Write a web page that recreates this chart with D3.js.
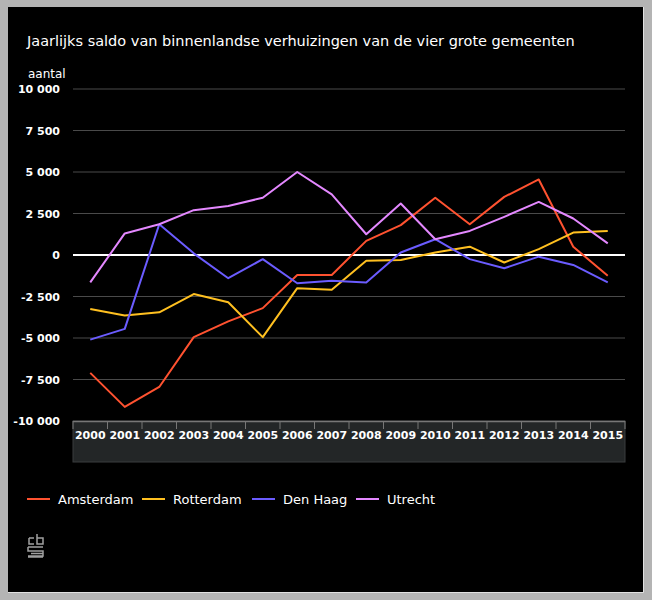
<!DOCTYPE html>
<html><head><meta charset="utf-8">
<script src="https://cdn.jsdelivr.net/npm/d3@7"></script>
<style>html,body{margin:0;padding:0;background:#b4b4b4;}svg{display:block;}</style>
</head><body>
<svg id="c" width="652" height="600"></svg>
<script>
const years = ["2000","2001","2002","2003","2004","2005","2006","2007","2008","2009","2010","2011","2012","2013","2014","2015"];
const amsterdam = [-7100,-9150,-7950,-4950,-4000,-3200,-1200,-1200,850,1800,3450,1850,3500,4550,500,-1250];
const rotterdam = [-3250,-3650,-3450,-2350,-2850,-4950,-2000,-2100,-350,-300,150,500,-450,350,1350,1450];
const denHaag = [-5100,-4450,1850,100,-1400,-250,-1700,-1550,-1650,150,950,-250,-800,-100,-600,-1650];
const utrecht = [-1650,1300,1850,2700,2950,3450,5000,3650,1250,3100,950,1450,2300,3200,2200,700];
const seriesNames = ["Amsterdam","Rotterdam","Den Haag","Utrecht"];
const seriesValues = [amsterdam, rotterdam, denHaag, utrecht];
const seriesColors = ["#ff5230","#ffc020","#6b5cff","#e488ff"];
const yTicks = [10000,7500,5000,2500,0,-2500,-5000,-7500,-10000];

const svg = d3.select("#c");
svg.append("rect").attr("x",8).attr("y",7).attr("width",635).attr("height",585).attr("fill","#000");
svg.append("path").attr("d","M643.5,7 V592.5 H8").attr("fill","none").attr("stroke","#e0e0e0").attr("stroke-width",1);

const fmt = v => d3.format(",")(v).replace(/,/g," ").replace("\u2212","-");

const x = d3.scaleBand().domain(years).range([73,625]);
const y = d3.scaleLinear().domain([-10000,10000]).range([421,89]);

svg.append("text").attr("x",27).attr("y",46).attr("fill","#fff")
  .attr("font-family","DejaVu Sans").attr("font-size",14.5)
  .text("Jaarlijks saldo van binnenlandse verhuizingen van de vier grote gemeenten");
svg.append("text").attr("x",28).attr("y",78).attr("fill","#fff")
  .attr("font-family","DejaVu Sans").attr("font-size",12)
  .text("aantal");

// grid
const g = svg.append("g");
g.selectAll("line.grid").data(yTicks.filter(d=>d!==0 && d!==-10000)).join("line")
  .attr("x1",73).attr("x2",625).attr("y1",d=>y(d)).attr("y2",d=>y(d))
  .attr("stroke","#4a4a4a").attr("stroke-width",1.2);
// y labels
g.selectAll("text.yl").data(yTicks).join("text")
  .attr("x",60).attr("y",d=>y(d)+4).attr("text-anchor","end").attr("fill","#fff")
  .attr("font-family","DejaVu Sans").attr("font-weight","bold").attr("font-size",11)
  .text(d=>fmt(d));

// x axis box
svg.append("rect").attr("x",73).attr("y",421).attr("width",552).attr("height",41)
  .attr("fill","#232627").attr("stroke","#3a3d3e").attr("stroke-width",1);
svg.append("line").attr("x1",73).attr("x2",625).attr("y1",421.5).attr("y2",421.5).attr("stroke","#777").attr("stroke-width",1.5);
const bounds = years.map(d=>x(d)).concat([625]);
svg.selectAll("line.xt").data(bounds).join("line")
  .attr("x1",d=>d).attr("x2",d=>d).attr("y1",421).attr("y2",429)
  .attr("stroke","#777").attr("stroke-width",1);
svg.selectAll("text.xl").data(years).join("text")
  .attr("x",d=>x(d)+x.bandwidth()/2).attr("y",439).attr("text-anchor","middle")
  .attr("fill","#fff").attr("font-family","DejaVu Sans").attr("font-weight","bold").attr("font-size",11)
  .text(d=>d);

// zero line
svg.append("line").attr("x1",73).attr("x2",625).attr("y1",y(0)).attr("y2",y(0))
  .attr("stroke","#fff").attr("stroke-width",2);

const line = d3.line().x((d,i)=>x(years[i])+x.bandwidth()/2).y(d=>y(d));
seriesValues.forEach((vals,i)=>{
  svg.append("path").datum(vals).attr("d",line).attr("fill","none")
    .attr("stroke",seriesColors[i]).attr("stroke-width",2).attr("stroke-linejoin","round");
});

// legend
const legX = [27,142,252,356];
seriesNames.forEach((n,i)=>{
  svg.append("line").attr("x1",legX[i]).attr("x2",legX[i]+23).attr("y1",499).attr("y2",499)
    .attr("stroke",seriesColors[i]).attr("stroke-width",2);
  svg.append("text").attr("x",legX[i]+31).attr("y",504).attr("fill","#fff")
    .attr("font-family","DejaVu Sans").attr("font-size",13).text(n);
});

// cbs logo
const lg = svg.append("g").attr("transform","translate(28,534)").attr("fill","none").attr("stroke","#a0a0a0").attr("stroke-width",1.5);
lg.append("path").attr("d","M1,4 h5 M1,4 v6 h5 M9,0 v10 h6 v-6 h-6 M0,13 h15 M0,13 v4 h15 v5 h-15 M3,19.5 h12 M0,23 h15");
</script>
</body></html>
